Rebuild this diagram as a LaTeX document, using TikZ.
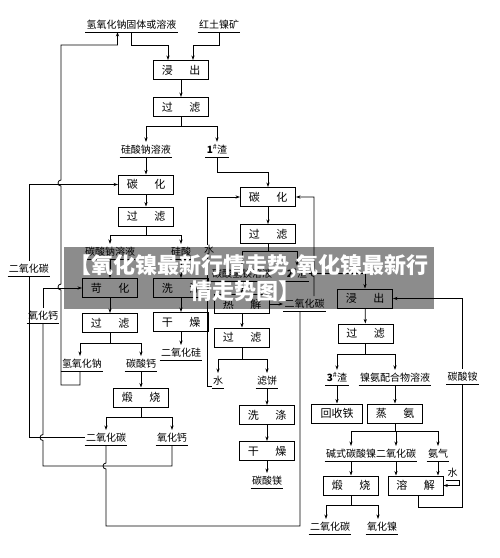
\documentclass[tikz,border=0pt]{standalone}
\usepackage{fontspec}
\newfontfamily\cjk{Noto Sans CJK SC}
\usetikzlibrary{arrows.meta,calc}
\begin{document}
\begin{tikzpicture}[x=1pt,y=-1pt,line width=0.8pt,
  box/.style={draw, line width=1pt, minimum width=55pt, minimum height=19pt, inner sep=0pt, font=\cjk\fontsize{11}{11}\selectfont},
  lab/.style={anchor=south, inner xsep=1pt, inner ysep=2.5pt, font=\cjk\fontsize{10}{10}\selectfont,
    append after command={(\tikzlastnode.south west) edge[draw,-] (\tikzlastnode.south east)}},
  arr/.style={-{Stealth[length=4.5pt,width=3.2pt]}},
  banner/.style={text=white, font=\cjk\bfseries\fontsize{22}{22}\selectfont, inner sep=0pt}
]
\fill[white] (0,0) rectangle (500,558);
\useasboundingbox (0,0) rectangle (500,558);

% ---- top / left column ----
\node[lab] (naohtop) at (131.5,32) {氢氧化钠固体或溶液};
\node[lab] (ore) at (219,32) {红土镍矿};
\node[box] (jinchu1) at (181,70) {浸\hspace{1.5em}出};
\node[box] (guolv1) at (181,107) {过\hspace{1.5em}滤};
\node[lab] (nasio) at (146,157) {硅酸钠溶液};
\node[lab] (slag1) at (217,157) {\textbf{1}\textsuperscript{\#}渣};
\node[box] (tanhua1) at (146,184.5) {碳\hspace{1.5em}化};
\node[box] (guolv2) at (146,216.5) {过\hspace{1.5em}滤};
\node[lab] (na2co3) at (110,259) {碳酸钠溶液};
\node[lab] (gui) at (181,259) {硅酸};
\node[box] (kehua) at (110,288) {苛\hspace{1.5em}化};
\node[box] (xidi1) at (181,288) {洗\hspace{1.5em}涤};
\node[box] (guolv3) at (110,323) {过\hspace{1.5em}滤};
\node[box] (ganzao1) at (181,322) {干\hspace{1.5em}燥};
\node[lab] (naoh) at (82,371) {氢氧化钠};
\node[lab] (caco3) at (141,371) {碳酸钙};
\node[lab] (sio2) at (181,360) {二氧化硅};
\node[box] (duanshao1) at (141,397.5) {煅\hspace{1.5em}烧};
\node[lab] (co2l) at (106,445) {二氧化碳};
\node[lab] (cao) at (172,445) {氧化钙};
\node[lab] (co2left) at (29,276) {二氧化碳};
\node[lab] (caoleft) at (43,323) {氧化钙};

% ---- middle column ----
\node[box] (tanhua2) at (268,197) {碳\hspace{1.5em}化};
\node[box] (guolv4) at (268,234) {过\hspace{1.5em}滤};
\node[lab] (mghco3) at (242,281) {碳酸氢镁溶液};
\node[lab] (slag2) at (297,281) {\textbf{2}\textsuperscript{\#}渣};
\node[box] (rejie) at (242,304) {热\hspace{1.5em}解};
\node[lab] (co2mid) at (304.5,311) {二氧化碳};
\node[box] (guolv5) at (242,337.5) {过\hspace{1.5em}滤};
\node[lab] (water2) at (218,388) {水};
\node[lab] (lvbing) at (267,388) {滤饼};
\node[box] (xidi2) at (267,415) {洗\hspace{1.5em}涤};
\node[box] (ganzao2) at (267,451) {干\hspace{1.5em}燥};
\node[lab] (mgco3) at (267,488) {碳酸镁};

% ---- right column ----
\node[box] (jinchu2) at (365,298.5) {浸\hspace{1.5em}出};
\node[box] (guolv6) at (365.5,333.5) {过\hspace{1.5em}滤};
\node[lab] (slag3) at (337,385) {\textbf{3}\textsuperscript{\#}渣};
\node[lab] (nisol) at (395,385) {镍氨配合物溶液};
\node[lab] (amc) at (462.5,384) {碳酸铵};
\node[box, minimum width=51pt] (hst) at (337,413.5) {回收铁};
\node[box] (zhengan) at (395,413.5) {蒸\hspace{1.5em}氨};
\node[lab] (bnc) at (351,461) {碱式碳酸镍};
\node[lab] (co2r) at (396,461) {二氧化碳};
\node[lab] (nh3) at (438,461) {氨气};
\node[lab] (water3) at (452.5,480) {水};
\node[box] (duanshao2) at (351,485.5) {煅\hspace{1.5em}烧};
\node[box] (rongjie) at (415.5,485.5) {溶\hspace{1.5em}解};
\node[lab] (co2b) at (330,534) {二氧化碳};
\node[lab] (nio) at (382,534) {氧化镍};

% ---- connectors: top ----
\draw[arr] (naohtop.south) -- ++(0,13) -| ([xshift=-13pt]jinchu1.north);
\draw[arr] (ore.south) -- ++(0,13) -| ([xshift=12pt]jinchu1.north);
\draw[arr] (jinchu1) -- (guolv1);
\draw (guolv1.south) -- ++(0,9) coordinate (s1);
\draw[arr] (s1) -| (nasio.north);
\draw[arr] (s1) -| (slag1.north);
\draw[arr] (nasio.south) -- (tanhua1.north);
\draw[arr] (slag1.south) -- ++(0,15) -| (tanhua2.north);
\draw[arr] (tanhua1) -- (guolv2);
\draw (guolv2.south) -- ++(0,8.5) coordinate (s2);
\draw[arr] (s2) -| (na2co3.north);
\draw[arr] (s2) -| (gui.north);
\draw[arr] (na2co3.south) -- (kehua.north);
\draw[arr] (gui.south) -- (xidi1.north);
\draw[arr] (kehua) -- (guolv3);
\draw[arr] (xidi1) -- (ganzao1);
\draw[arr] (ganzao1.south) -- (sio2.north);
\draw (guolv3.south) -- ++(0,10) coordinate (s3);
\draw[arr] (s3) -| ([xshift=-2pt]naoh.north);
\draw[arr] (s3) -| (caco3.north);
\draw[arr] (caco3.south) -- (duanshao1.north);
\draw (duanshao1.south) -- ++(0,10) coordinate (s4);
\draw[arr] (s4) -| (co2l.north);
\draw[arr] (s4) -| (cao.north);

% NaOH recycle
\draw[arr] ([xshift=-2pt]naoh.south) -- ++(0,14) -| (61,290)
  arc[start angle=270,end angle=90,radius=3pt] -- (61,186)
  arc[start angle=270,end angle=90,radius=3pt] -- (61,45)
  -| ([xshift=-14pt]naohtop.south);
% CO2 left loop
\draw (co2l.west) -| (co2left.south);
\draw[arr] (co2left.north) |- (tanhua1.west);
% CaO recycle
\draw (cao.south) -- ++(0,21) -| (43,440.5)
  arc[start angle=270,end angle=90,radius=3pt] -- (caoleft.south);
\draw[arr] (caoleft.north) |- (kehua.west);
% CO2 bottom line
\draw (co2l.south) -- (106,463) arc[start angle=90,end angle=270,radius=3pt]
  -- (106,526) -| ([xshift=-4.5pt]co2mid.south);
\draw[arr] ([xshift=9.5pt]co2mid.north) -- (314,276.5)
  arc[start angle=270,end angle=90,radius=3pt] |- (tanhua2.east);

% ---- middle ----
\draw[arr] (tanhua2) -- (guolv4);
\draw (guolv4.south) -- ++(0,7.5) coordinate (s5);
\draw[arr] (s5) -| (mghco3.north);
\draw[arr] (s5) -| (slag2.north);
\draw[arr] (slag2.east) -| (jinchu2.north);
\draw[arr] (mghco3.south) -- (rejie.north);
\draw[arr] (rejie) -- (guolv5);
\draw[arr] (rejie.east) -- (rejie.east -| co2mid.west);
\draw (guolv5.south) -- ++(0,11.5) coordinate (s6);
\draw[arr] (s6) -| (water2.north);
\draw[arr] (s6) -| (lvbing.north);
\draw[arr] (lvbing.south) -- (xidi2.north);
\draw[arr] (xidi2) -- (ganzao2);
\draw[arr] (ganzao2.south) -- (mgco3.north);
\draw[arr] ([yshift=2pt]water2.south west) -- ++(-4,0) |- (tanhua2.west);
\node[font=\cjk\fontsize{10}{10}\selectfont, fill=white, inner sep=0.5pt] (shui1) at (209,250) {水};

% ---- right ----
\draw[arr] (jinchu2) -- (guolv6);
\draw (guolv6.south) -- ++(0,11) coordinate (s7);
\draw[arr] (s7) -| (slag3.north);
\draw[arr] (s7) -| (nisol.north);
\draw[arr] (slag3.south) -- (hst.north);
\draw[arr] (nisol.south) -- (zhengan.north);
\draw (zhengan.south) -- ++(0,8) coordinate (s8);
\draw[arr] (s8) -| (bnc.north);
\draw[arr] (s8) -| (co2r.north);
\draw[arr] (s8) -| (nh3.north);
\draw[arr] (bnc.south) -- (duanshao2.north);
\draw[arr] (co2r.south) -- (co2r.south |- rongjie.north);
\draw[arr] (nh3.south) -- (nh3.south |- rongjie.north);
\draw[arr] (water3.south east) |- (rongjie.east);
\draw ([xshift=2.5pt]rongjie.south) -- ++(0,12) -| (amc.south);
\draw[arr] (amc.north) |- (jinchu2.east);
\draw (duanshao2.south) -- ++(0,10) coordinate (s9);
\draw[arr] (s9) -| ([xshift=-4pt]co2b.north);
\draw[arr] (s9) -| ([xshift=-4pt]nio.north);

% ---- banner overlay ----
\fill[black, fill opacity=0.45] (64,247) rectangle (434,309);
\node[banner] (bn1) at (249,267) {【氧化镍最新行情走势,氧化镍最新行};
\node[banner] (bn2) at (245,291) {情走势图】};
\end{tikzpicture}
\end{document}
